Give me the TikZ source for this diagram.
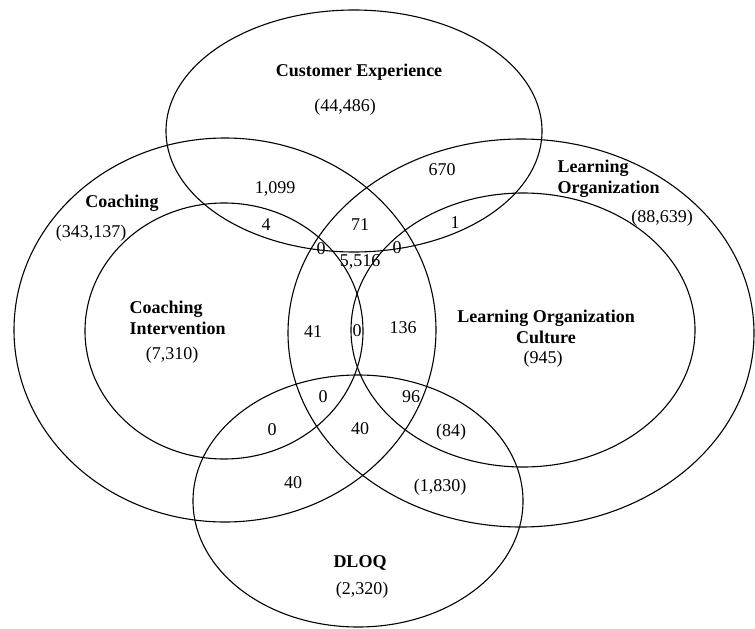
\documentclass[tikz,border=0pt]{standalone}
\usepackage{fontspec}
\setmainfont{Liberation Serif}
\tikzstyle{setname}=[font=\fontsize{18}{21}\selectfont\bfseries, inner sep=0pt, align=left]
\tikzstyle{tally}=[font=\fontsize{18}{21}\selectfont, inner sep=0pt]
\newcommand{\setnode}{\node[setname]}
\newcommand{\numnode}{\node[tally]}

\begin{document}
\begin{tikzpicture}[x=1pt,y=-1pt,line width=1.1pt]
\useasboundingbox (0,0) rectangle (755,629);
%%the six sets
\foreach \cx/\cy/\rx/\ry in {354/131/188/121, 225/330/211/192, 224/331/139/128,
	521/333/233/194, 523/330/172/137, 358/501/165/126}{
	\draw (\cx,\cy) ellipse (\rx pt and \ry pt);
	}
%set names and sizes
\setnode (ceName) at (359,72) {Customer Experience};
\numnode (ceSize) at (345,107) {(44,486)};
\setnode (coName) at (122,203) {Coaching};
\numnode (coSize) at (91,233) {(343,137)};
\setnode (ciName) at (129,318) [anchor=west] {Coaching\\Intervention};
\numnode (ciSize) at (172,355) {(7,310)};
\setnode (loName) at (557,179) [anchor=west] {Learning\\Organization};
\numnode (loSize) at (662,218) {(88,639)};
\setnode (locName) at (546,327) [align=center] {Learning Organization\\Culture};
\numnode (locSize) at (543,359) {(945)};
\setnode (dlName) at (360,563) {DLOQ};
\numnode (dlSize) at (362,590) {(2,320)};
%overlap counts
\numnode (n1099) at (275,189) {1,099};
\numnode (n4) at (266,225) {4};
\numnode (n71) at (360,225) {71};
\numnode (n0a) at (321,249) {0};
\numnode (n5516) at (360,262) {5,516};
\numnode (n0b) at (397,248) {0};
\numnode (n1) at (455,223) {1};
\numnode (n670) at (442,170) {670};
\numnode (n41) at (313,332) {41};
\numnode (n0c) at (357,331) {0};
\numnode (n136) at (403,328) {136};
\numnode (n96) at (411,397) {96};
\numnode (n0d) at (323,397) {0};
\numnode (n0e) at (272,430) {0};
\numnode (n40a) at (360,429) {40};
\numnode (n84) at (451,432) {(84)};
\numnode (n40b) at (293,483) {40};
\numnode (n1830) at (440,487) {(1,830)};
\end{tikzpicture}
\end{document}
